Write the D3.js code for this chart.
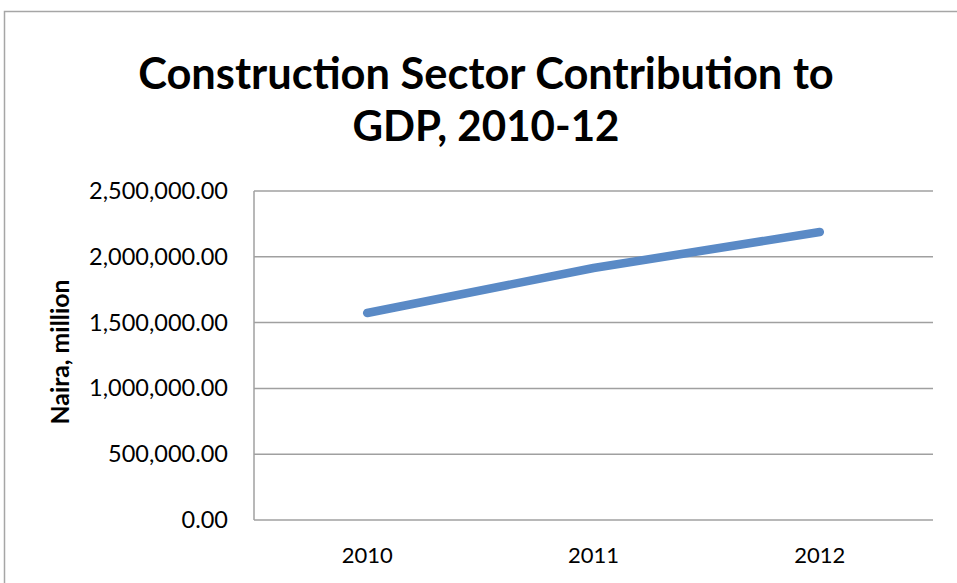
<!DOCTYPE html>
<html>
<head>
<meta charset="utf-8">
<script src="https://d3js.org/d3.v7.min.js"></script>
<style>
  body { margin: 0; background: #fff; }
  svg { display: block; }
</style>
</head>
<body>
<div id="chart"></div>
<script>
    // chart data
    const years = ["2010", "2011", "2012"]
    const values = [1573000, 1915000, 2188000]
    const yTicks = [0, 500000, 1000000, 1500000, 2000000, 2500000]
    const titleLines = ["Construction Sector Contribution to", "GDP, 2010-12"]
    const yLabel = "Naira, million"

    var width = 957, height = 583;
    var plot = { left: 254, right: 933, top: 191, bottom: 520 };

    var svg = d3.select("#chart").append("svg")
        .attr("width", width)
        .attr("height", height);

    // outer chart border (right/bottom edges run off the picture)
    svg.append("rect")
        .attr("x", 4.5).attr("y", 11.5)
        .attr("width", 1000).attr("height", 1000)
        .attr("fill", "none")
        .attr("stroke", "#a6a6a6")
        .attr("stroke-width", 1.5);

    var x = d3.scalePoint()
        .domain(years)
        .range([plot.left, plot.right])
        .padding(0.5);

    var y = d3.scaleLinear()
        .domain([0, 2500000])
        .range([plot.bottom, plot.top]);

    // fit text to a given width (installed fonts are wider than Calibri)
    function fit(sel, target, size) {
        var w = sel.node().getComputedTextLength();
        sel.attr("font-size", size * target / w);
    }

    // title
    var titleY = [89, 141];
    var titleW = [696, 267];
    titleLines.forEach(function (t, i) {
        var tt = svg.append("text")
            .attr("x", 486)
            .attr("y", titleY[i])
            .attr("text-anchor", "middle")
            .attr("font-family", "Lato, 'Open Sans', sans-serif")
            .attr("font-weight", "bold")
            .attr("font-size", 44)
            .attr("fill", "#000")
            .text(t);
        fit(tt, titleW[i], 44);
    });

    // gridlines
    svg.append("g")
        .selectAll("line")
        .data(yTicks)
        .enter().append("line")
        .attr("x1", plot.left).attr("x2", plot.right)
        .attr("y1", d => y(d)).attr("y2", d => y(d))
        .attr("stroke", "#a0a0a0")
        .attr("stroke-width", 1.5);

    // left axis line
    svg.append("line")
        .attr("x1", plot.left).attr("x2", plot.left)
        .attr("y1", plot.top).attr("y2", plot.bottom)
        .attr("stroke", "#a0a0a0")
        .attr("stroke-width", 1.5);

    // y axis labels
    var fmt = d3.format(",.2f");
    var yl = svg.append("g").selectAll("text")
        .data(yTicks)
        .enter().append("text")
        .attr("x", 228)
        .attr("y", d => y(d) + 8)
        .attr("text-anchor", "end")
        .attr("font-family", "Lato, 'Open Sans', sans-serif")
        .attr("font-size", 22)
        .attr("fill", "#000")
        .text(d => fmt(d));
    var w0 = yl.filter(d => d === 2500000).node().getComputedTextLength();
    yl.attr("font-size", 22 * 139 / w0);

    // x axis labels
    svg.append("g").selectAll("text")
        .data(years)
        .enter().append("text")
        .attr("x", d => x(d))
        .attr("y", 563)
        .attr("text-anchor", "middle")
        .attr("font-family", "Lato, 'Open Sans', sans-serif")
        .attr("font-size", 22)
        .attr("fill", "#000")
        .text(d => d);

    // y axis title
    var yt = svg.append("text")
        .attr("transform", "translate(69,352) rotate(-90)")
        .attr("text-anchor", "middle")
        .attr("font-family", "Lato, 'Open Sans', sans-serif")
        .attr("font-weight", "bold")
        .attr("font-size", 21)
        .attr("fill", "#000")
        .text(yLabel);
    fit(yt, 145, 21);

    // the series line
    var line = d3.line()
        .x((d, i) => x(years[i]))
        .y(d => y(d));

    svg.append("path")
        .datum(values)
        .attr("d", line)
        .attr("fill", "none")
        .attr("stroke", "#5a8ac6")
        .attr("stroke-width", 8.5)
        .attr("stroke-linecap", "round")
        .attr("stroke-linejoin", "round");
</script>
</body>
</html>
